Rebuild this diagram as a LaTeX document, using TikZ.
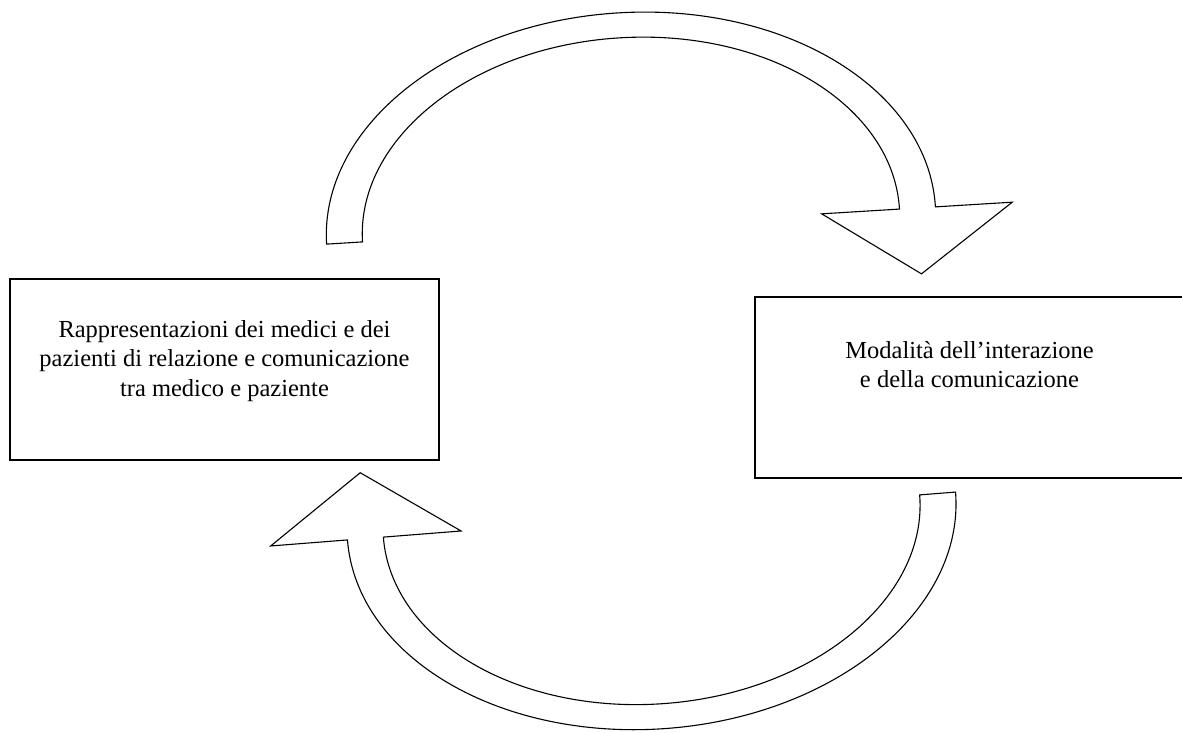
\documentclass[tikz,border=0pt]{standalone}
\usepackage{fontspec}
\setmainfont{Liberation Serif}

% Box contents: fixed-size parbox, text block starting a set distance below the top
\newcommand{\panelbody}[2]{\parbox[c][181pt][t]{429pt}{\centering\fontsize{24.5}{29.5}\selectfont\rule{0pt}{#1}#2}}

\tikzset{
  panel/.style={draw, line width=1.6pt, inner sep=0pt, outer sep=0pt, anchor=north west},
  blockarrow/.style={draw, fill=white, line width=1.1pt, line join=miter},
  % curved block arrow: elliptic shaft over the top, head pointing down at the right end
  pics/cyclearrow/.style={code={
    \draw[blockarrow] (-305,0)
      arc[start angle=180, end angle=0, x radius=305pt, y radius=213pt]
      -- (382,0) -- (287,-66) -- (191,0) -- (269,0)
      arc[start angle=0, end angle=180, x radius=269pt, y radius=188pt]
      -- cycle;
  }}
}

\begin{document}
\begin{tikzpicture}[x=1pt, y=1pt]
  \useasboundingbox (0,0) rectangle (1182,732);
  \fill[white] (0,0) rectangle (1182,732);
  \clip (0,0) rectangle (1182,732);

  % the two boxes
  \node[panel] (rep) at (10,453)
    {\panelbody{58pt}{Rappresentazioni dei medici e dei\\pazienti di relazione e comunicazione\\tra medico e paziente}};
  \node[panel] (mod) at (755,435)
    {\panelbody{61pt}{Modalità dell’interazione\\e della comunicazione}};

  % upper arrow: from the left box over to the right box
  \pic[rotate=3.5] (upper) at (631,506.5) {cyclearrow};
  % lower arrow: from the right box back under to the left box
  \pic[rotate=184.5] (lower) at (651.5,216) {cyclearrow};
\end{tikzpicture}
\end{document}
